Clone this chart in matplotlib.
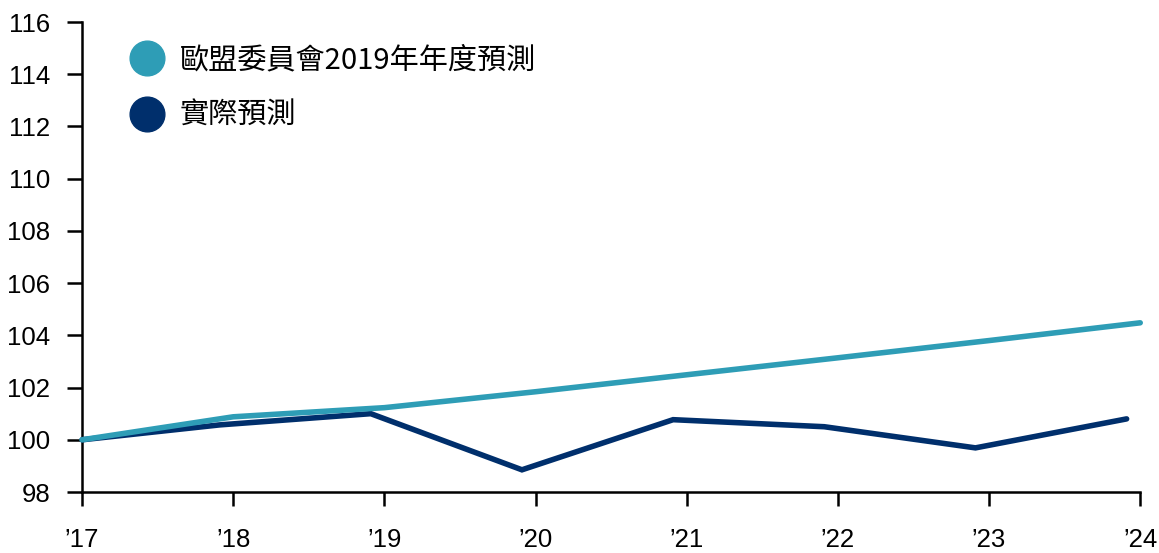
import matplotlib.pyplot as plt
from matplotlib.lines import Line2D
from matplotlib import font_manager

# EU Commission 2019 forecast vs. actual path, index 2017 = 100
forecast_years = [2017, 2018, 2019, 2020, 2021, 2022, 2023, 2024]
forecast_vals = [100.0, 100.88, 101.23, 101.84, 102.49, 103.14, 103.80, 104.48]

actual_years = [2017.0, 2017.91, 2018.91, 2019.91, 2020.91, 2021.91, 2022.91, 2023.91]
actual_vals = [100.0, 100.57, 101.0, 98.85, 100.77, 100.5, 99.69, 100.8]

tick_years = [2017, 2018, 2019, 2020, 2021, 2022, 2023, 2024]
tick_labels = ["’17", "’18", "’19", "’20", "’21", "’22", "’23", "’24"]

series_names = ["歐盟委員會2019年年度預測", "實際預測"]
teal = "#2E9DB6"
navy = "#002F6C"

installed = {f.name for f in font_manager.fontManager.ttflist}
num_font = "Liberation Sans Narrow" if "Liberation Sans Narrow" in installed else "Liberation Sans"
plt.rcParams["font.family"] = ["Noto Sans CJK TC", "DejaVu Sans"]

fig = plt.figure(figsize=(11.59, 5.53), dpi=100)
ax = fig.add_axes([0.0708, 0.1103, 0.9130, 0.8499])

ax.plot(actual_years, actual_vals, color=navy, lw=4.0, solid_capstyle="round",
        solid_joinstyle="miter", clip_on=False, zorder=3)
ax.plot(forecast_years, forecast_vals, color=teal, lw=4.0, solid_capstyle="round",
        solid_joinstyle="miter", clip_on=False, zorder=4)

ax.set_xlim(2017, 2024)
ax.set_ylim(98, 116)
ax.set_yticks(range(98, 117, 2))
ax.set_xticks(tick_years)
ax.set_xticklabels(tick_labels)

for s in ["top", "right"]:
    ax.spines[s].set_visible(False)
for s in ["left", "bottom"]:
    ax.spines[s].set_linewidth(1.8)
    ax.spines[s].set_color("black")

ax.tick_params(axis="y", direction="out", length=11, width=1.8, pad=12, labelsize=18.5)
ax.tick_params(axis="x", direction="out", length=10, width=1.8, pad=16, labelsize=18.5)
for lab in ax.get_xticklabels() + ax.get_yticklabels():
    lab.set_fontfamily(num_font)

handles = [Line2D([], [], marker="o", ls="none", markersize=25, color=teal),
           Line2D([], [], marker="o", ls="none", markersize=25, color=navy)]
leg = ax.legend(handles, series_names, loc="upper left", bbox_to_anchor=(0.031, 0.982),
                frameon=False, fontsize=21, labelspacing=0.88, handletextpad=0.52,
                handlelength=1.2, borderpad=0)

fig.savefig("out.png", dpi=100)
